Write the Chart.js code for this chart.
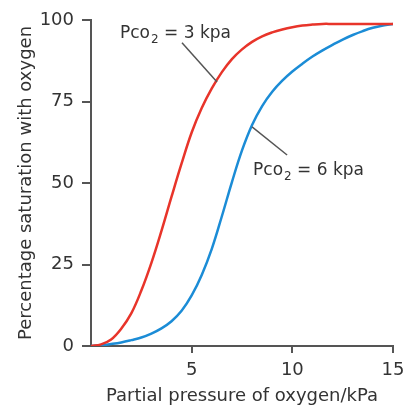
<!DOCTYPE html>
<html>
<head>
<meta charset="utf-8">
<script src="https://cdn.jsdelivr.net/npm/chart.js@4"></script>
<style>
  html, body { margin: 0; padding: 0; background: #fff; }
  #wrap { width: 417px; height: 411px; }
</style>
</head>
<body>
<div id="wrap"><canvas id="myChart"></canvas></div>
<script>
// partial pressure of O2 (kPa) and % saturation
const pressure = [0, 0.5, 1, 1.5, 2, 2.5, 3, 3.5, 4, 4.5, 5, 5.5, 6, 6.5, 7, 7.5, 8, 8.5, 9, 9.5, 10, 10.5, 11, 11.5, 12, 12.5, 13, 13.5, 14, 14.5, 15];
const redY = [0, 0.5, 2, 5.3, 10, 17, 25.5, 35.3, 45.8, 56, 65.5, 73, 79, 84, 88, 91, 93.3, 95, 96.2, 97.1, 97.8, 98.3, 98.6, 98.8, 98.8, 98.8, 98.8, 98.8, 98.8, 98.8, 98.8];
const blueY = [0, 0.2, 0.6, 1.1, 1.8, 2.6, 3.8, 5.4, 7.6, 10.8, 15.5, 21.8, 29.8, 39.8, 50.3, 60, 67.8, 73.6, 78, 81.4, 84.2, 86.6, 88.8, 90.7, 92.4, 94, 95.4, 96.6, 97.6, 98.3, 98.8];

const xTicks = [5, 10, 15];
const yTicks = [0, 25, 50, 75, 100];

// curve labels: "Pco" + subscript 2 + rest, text anchor (x, y) and leader line ends
const labelRest = [' = 3 kpa', ' = 6 kpa'];
const labelAt = [[1.44, 94.5], [8.05, 52.5]];
const leaderFrom = [[4.52, 93], [8.0, 67.2]];
const leaderTo = [[6.26, 81], [9.74, 58.6]];

const font = '"DejaVu Sans", sans-serif';
const ink = '#333333';

function toPoints(xs, ys) {
  return xs.map((x, i) => ({ x: x, y: ys[i] }));
}

const curveLabels = {
  id: 'curveLabels',
  afterDatasetsDraw(chart) {
    const ctx = chart.ctx;
    const xs = chart.scales.x;
    const ys = chart.scales.y;
    ctx.save();
    ctx.strokeStyle = '#555555';
    ctx.lineWidth = 1.5;
    leaderFrom.forEach((p, i) => {
      ctx.beginPath();
      ctx.moveTo(xs.getPixelForValue(p[0]), ys.getPixelForValue(p[1]));
      ctx.lineTo(xs.getPixelForValue(leaderTo[i][0]), ys.getPixelForValue(leaderTo[i][1]));
      ctx.stroke();
    });
    ctx.fillStyle = ink;
    ctx.textAlign = 'left';
    ctx.textBaseline = 'alphabetic';
    labelRest.forEach((t, i) => {
      let x = xs.getPixelForValue(labelAt[i][0]);
      const y = ys.getPixelForValue(labelAt[i][1]);
      ctx.font = '17px ' + font;
      ctx.fillText('Pco', x, y);
      x += ctx.measureText('Pco').width + 1;
      ctx.font = '12px ' + font;
      ctx.fillText('2', x, y + 5);
      x += ctx.measureText('2').width;
      ctx.font = '17px ' + font;
      ctx.fillText(t, x, y);
    });
    ctx.restore();
  }
};

const data = {
  datasets: [
    {
      label: 'Pco2 = 3 kpa',
      data: toPoints(pressure, redY),
      borderColor: '#e8342a',
      borderWidth: 2.5
    },
    {
      label: 'Pco2 = 6 kpa',
      data: toPoints(pressure, blueY),
      borderColor: '#1b8cd6',
      borderWidth: 2.5
    }
  ]
};

const config = {
  type: 'scatter',
  data: data,
  options: {
    responsive: true,
    maintainAspectRatio: false,
    animation: false,
    showLine: true,
    elements: {
      point: { radius: 0, hoverRadius: 0 },
      line: { tension: 0.4, fill: false }
    },
    layout: { padding: { left: 0, right: 24, top: 20, bottom: 0 } },
    plugins: { legend: { display: false }, tooltip: { enabled: false } },
    scales: {
      x: {
        type: 'linear',
        min: 0,
        max: 15,
        afterFit(scale) { scale.height = 65; },
        afterBuildTicks(scale) { scale.ticks = xTicks.map(v => ({ value: v })); },
        border: { color: '#555555', width: 2 },
        grid: { drawOnChartArea: false, tickLength: 7, tickColor: '#555555', lineWidth: 2 },
        ticks: { color: ink, padding: 7, font: { family: font, size: 18 }, maxRotation: 0 },
        title: {
          display: true,
          text: 'Partial pressure of oxygen/kPa',
          color: ink,
          font: { family: font, size: 18 },
          padding: { top: 0, bottom: 4 }
        }
      },
      y: {
        type: 'linear',
        min: 0,
        max: 100,
        afterFit(scale) { scale.width = 91; },
        afterBuildTicks(scale) { scale.ticks = yTicks.map(v => ({ value: v })); },
        border: { color: '#555555', width: 2 },
        grid: { drawOnChartArea: false, tickLength: 9, tickColor: '#555555', lineWidth: 2 },
        ticks: { color: ink, padding: 8, font: { family: font, size: 18 } },
        title: {
          display: true,
          text: 'Percentage saturation with oxygen',
          color: ink,
          font: { family: font, size: 18 },
          padding: { top: 16, bottom: 0 }
        }
      }
    }
  },
  plugins: [curveLabels]
};

const canvasElement = document.getElementById('myChart');
const myChart = new Chart(canvasElement, config);
</script>
</body>
</html>
